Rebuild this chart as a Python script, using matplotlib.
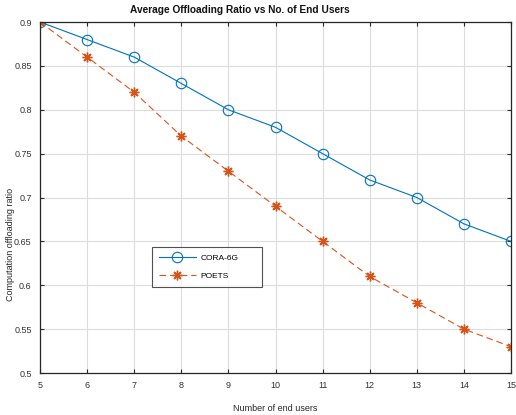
import matplotlib
matplotlib.use("Agg")
import matplotlib.pyplot as plt

users = [5, 6, 7, 8, 9, 10, 11, 12, 13, 14, 15]
cora = [0.90, 0.88, 0.86, 0.83, 0.80, 0.78, 0.75, 0.72, 0.70, 0.67, 0.65]
poets = [0.90, 0.86, 0.82, 0.77, 0.73, 0.69, 0.65, 0.61, 0.58, 0.55, 0.53]
yticks = [0.5, 0.55, 0.6, 0.65, 0.7, 0.75, 0.8, 0.85, 0.9]
ytick_labels = ["0.5", "0.55", "0.6", "0.65", "0.7", "0.75", "0.8", "0.85", "0.9"]

plt.rcParams['font.family'] = ['Liberation Sans', 'DejaVu Sans']

fig = plt.figure(figsize=(5.16, 4.15), dpi=100)
L, R, T, B = 40, 511, 22, 373
ax = fig.add_axes([L/516, 1 - B/415, (R-L)/516, (B-T)/415])

blue = (0, 0.447, 0.741)
orange = (0.85, 0.325, 0.098)

ax.plot(users, cora, '-', color=blue, lw=0.8, marker='o', ms=7.5,
        mfc='none', mec=blue, mew=0.8, label='CORA-6G')
ax.plot(users, poets, '--', color=orange, lw=0.8, marker=(8, 2, 0), ms=7,
        mfc=orange, mec=orange, mew=1.0, dashes=(6, 3.5), label='POETS')

ax.set_xlim(5, 15)
ax.set_ylim(0.5, 0.9)
ax.set_xticks(users)
ax.set_yticks(yticks)
ax.set_yticklabels(ytick_labels)
ax.grid(True, color='#dcdcdc', lw=0.8)
ax.set_axisbelow(True)
ax.tick_params(direction='in', top=True, right=True, labelsize=6.5,
               labelcolor='#333333', length=3, width=0.8, color='#262626', pad=6)
for s in ax.spines.values():
    s.set_color('#262626')
    s.set_linewidth(0.9)

ax.set_xlabel('Number of end users', fontsize=6.5, color='#262626')
ax.xaxis.set_label_coords(0.5, -(404 - B) / (B - T))
ax.set_ylabel('Computation offloading ratio', fontsize=6.5, color='#262626')
ax.yaxis.set_label_coords(-(L - 15) / (R - L), (B - 244) / (B - T))
fig.text(240/516, 1 - 10/415, 'Average Offloading Ratio vs No. of End Users',
         ha='center', va='center', fontsize=7.3, fontweight='bold', color='#111111')

leg = ax.legend(loc='upper left',
                bbox_to_anchor=((152 - L) / (R - L), (B - 247) / (B - T), 110 / (R - L), 0.0),
                mode='expand', fontsize=6, frameon=True, fancybox=False,
                handlelength=4.5, borderpad=0.8, labelspacing=1.3, handletextpad=0.5,
                borderaxespad=0)
leg.get_frame().set_edgecolor('#262626')
leg.get_frame().set_linewidth(0.8)

fig.savefig('out.png', dpi=100)
